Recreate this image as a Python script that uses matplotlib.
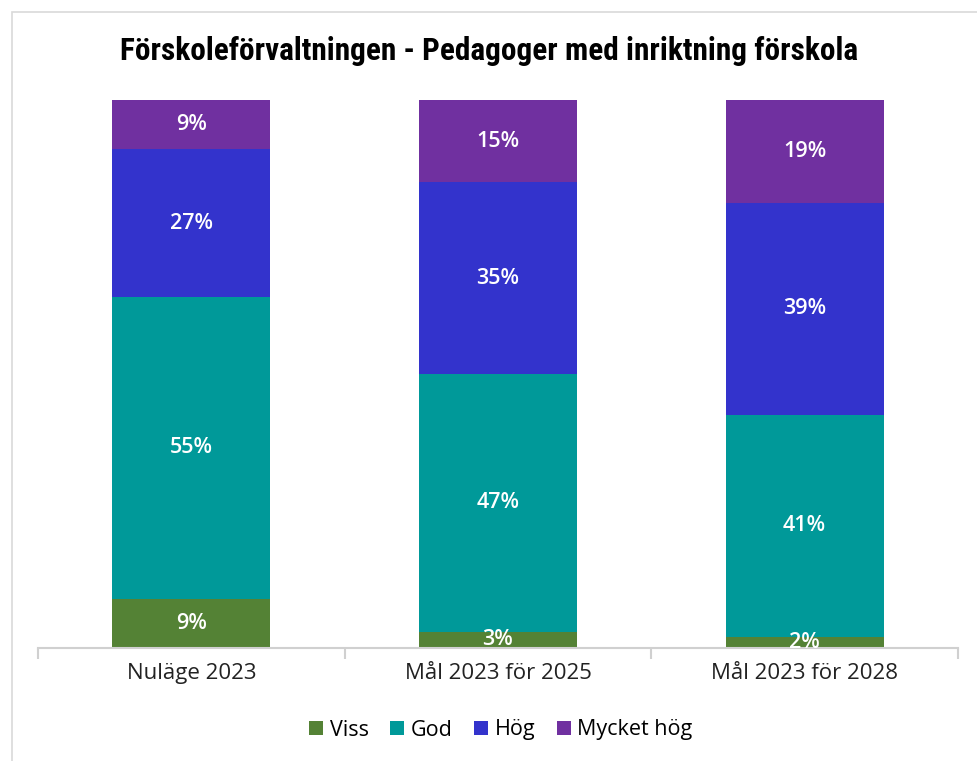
import matplotlib.pyplot as plt
from matplotlib.patches import Rectangle
from matplotlib import font_manager
import numpy as np

kategorier = ['Nuläge 2023', 'Mål 2023 för 2025', 'Mål 2023 för 2028']
serier = ['Viss', 'God', 'Hög', 'Mycket hög']
viss = [9, 3, 2]
god = [55, 47, 41]
hog = [27, 35, 39]
mycket_hog = [9, 15, 19]
farger = ['#548235', '#009999', '#3333CC', '#7030A0']

# smal fet font till rubriken om en sådan finns
titel_font = 'DejaVu Sans'
titel_stretch = 'normal'
for f in font_manager.fontManager.ttflist:
    if f.name in ('Roboto Condensed', 'Liberation Sans Narrow', 'Open Sans Condensed'):
        titel_font = f.name
        break
    if f.name in ('Noto Sans', 'DejaVu Sans', 'Open Sans') and f.stretch in ('condensed', 'semi-condensed', 'extra-condensed', 75, 87.5):
        titel_font = f.name
        titel_stretch = 'condensed'

plt.rcParams['font.family'] = ['Open Sans', 'DejaVu Sans']

varden = np.array([viss, god, hog, mycket_hog], dtype=float)
summa = varden.sum(axis=0)
andelar = varden / summa

fig = plt.figure(figsize=(9.78, 7.61), dpi=100)
ax = fig.add_axes([38 / 978, 1 - 648 / 761, 920 / 978, 548 / 761])

# ram runt diagrammet
fig.add_artist(Rectangle((12 / 978, -0.1), 1.2, 1 - 12 / 761 + 0.1,
                         transform=fig.transFigure, fill=False,
                         edgecolor='#d9d9d9', linewidth=1.2))

x = np.arange(len(kategorier))
botten = np.zeros(len(kategorier))
for i, s in enumerate(serier):
    staplar = ax.bar(x, andelar[i], 0.515, bottom=botten, color=farger[i],
                     label=s, zorder=2)
    etiketter = ax.bar_label(staplar, labels=[f'{int(v)}%' for v in varden[i]],
                             label_type='center', color='white', fontsize=15.5,
                             fontweight='semibold')
    for t in etiketter:
        t.set_clip_on(True)
    botten += andelar[i]

ax.set_xlim(-0.5, 2.5)
ax.set_ylim(0, 1)
ax.set_yticks([])
for side in ['top', 'right', 'left']:
    ax.spines[side].set_visible(False)
ax.spines['bottom'].set_color('#d0d0d0')
ax.spines['bottom'].set_linewidth(1.5)
ax.set_xticks([-0.5, 0.5, 1.5, 2.5], minor=False)
ax.set_xticklabels([])
ax.tick_params(axis='x', which='major', length=8, color='#d0d0d0', width=1.5)
ax.set_xticks(x, minor=True)
ax.set_xticklabels(kategorier, minor=True, fontsize=16, color='#222222')
ax.tick_params(axis='x', which='minor', length=0, pad=11)

titel = fig.text(0.5, 1 - 51 / 761, 'Förskoleförvaltningen - Pedagoger med inriktning förskola',
                 ha='center', va='center', fontsize=18, fontweight='bold',
                 fontstretch=titel_stretch, family=[titel_font, 'DejaVu Sans'])
# anpassa rubrikens bredd till ca 736 px
fig.canvas.draw()
bredd = titel.get_window_extent().width
titel.set_fontsize(min(23, 18 * 736 / bredd))

fig.legend(loc='center', bbox_to_anchor=(0.512, 1 - 730 / 761), ncol=4,
           frameon=False, fontsize=15.5, handlelength=0.65, handleheight=0.65,
           handletextpad=0.3, columnspacing=1.0)

fig.savefig('out.png', dpi=100)
